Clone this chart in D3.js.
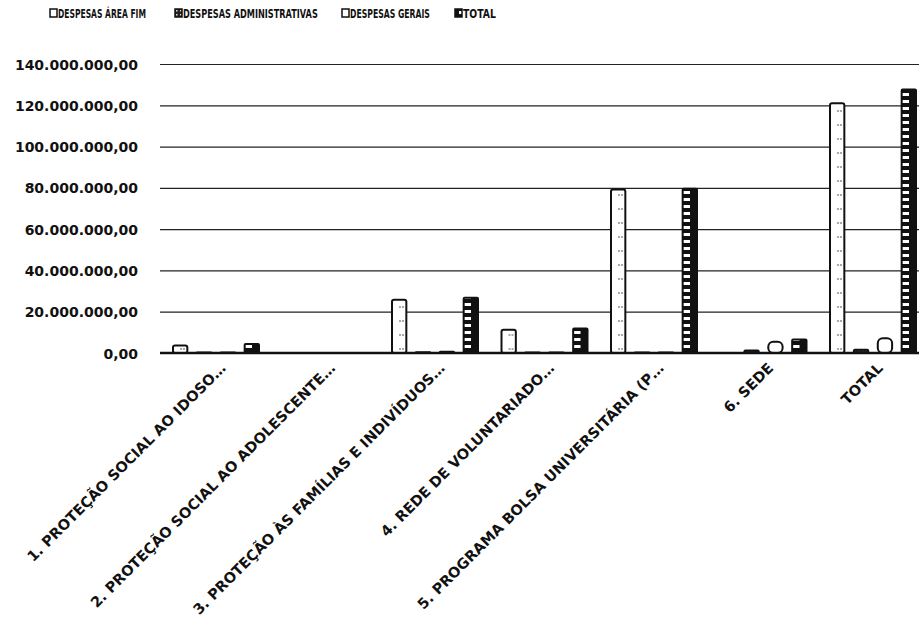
<!DOCTYPE html>
<head>
  <meta charset="utf-8">
  <style>
    body { margin: 0; background: #fff; }
    .ytick text { font-family: 'DejaVu Sans', sans-serif; font-weight: bold; font-size: 14px; fill: #111; }
    .xlab { font-family: 'DejaVu Sans', sans-serif; font-weight: bold; font-size: 14.5px; fill: #111; }
    .legend text { font-family: 'DejaVu Sans', sans-serif; font-weight: bold; font-size: 12.5px; fill: #111; }
  </style>
</head>
<body>
  <script src="https://cdn.jsdelivr.net/npm/d3@7"></script>
  <script>
    // data (values in R$)
    const categories = [
      "1. PROTEÇÃO SOCIAL AO IDOSO…",
      "2. PROTEÇÃO SOCIAL AO ADOLESCENTE…",
      "3. PROTEÇÃO ÀS FAMÍLIAS E INDIVÍDUOS…",
      "4. REDE DE VOLUNTARIADO…",
      "5. PROGRAMA BOLSA UNIVERSITÁRIA (P…",
      "6. SEDE",
      "TOTAL"
    ];
    const seriesNames = ["DESPESAS ÁREA FIM", "DESPESAS ADMINISTRATIVAS", "DESPESAS GERAIS", "TOTAL"];
    const areaFim   = [3.6e6, 0, 25.8e6, 11.3e6, 79.2e6, 0, 121.0e6];
    const adminDesp = [0.2e6, 0, 0.4e6, 0.3e6, 0.2e6, 1.2e6, 1.6e6];
    const geraisDesp = [0.2e6, 0, 0.6e6, 0.3e6, 0.2e6, 5.4e6, 7.2e6];
    const totalDesp = [4.4e6, 0, 26.8e6, 11.9e6, 79.6e6, 6.6e6, 127.6e6];
    const yTicks = [0, 20e6, 40e6, 60e6, 80e6, 100e6, 120e6, 140e6];

    const width = 919, height = 618;
    const margin = {top: 64, right: 0, bottom: 265, left: 160};
    const innerH = height - margin.top - margin.bottom;

    const svg = d3.select("body").append("svg")
      .attr("width", width).attr("height", height);

    // patterns to imitate the scanned bar fills
    const defs = svg.append("defs");
    const pTot = defs.append("pattern").attr("id", "pat-total")
      .attr("patternUnits", "userSpaceOnUse").attr("width", 16).attr("height", 7);
    pTot.append("rect").attr("width", 16).attr("height", 7).attr("fill", "#111");
    pTot.append("rect").attr("x", 4).attr("y", 2).attr("width", 8).attr("height", 3).attr("fill", "#fff");
    const pAdm = defs.append("pattern").attr("id", "pat-admin")
      .attr("patternUnits", "userSpaceOnUse").attr("width", 4).attr("height", 4);
    pAdm.append("rect").attr("width", 4).attr("height", 4).attr("fill", "#222");
    pAdm.append("rect").attr("x", 1).attr("y", 1).attr("width", 1.5).attr("height", 1.5).attr("fill", "#ddd");
    const pFim = defs.append("pattern").attr("id", "pat-fim")
      .attr("patternUnits", "userSpaceOnUse").attr("width", 16).attr("height", 14);
    pFim.append("rect").attr("width", 16).attr("height", 14).attr("fill", "#fff");
    pFim.append("line").attr("x1", 4).attr("x2", 9).attr("y1", 13).attr("y2", 13)
      .attr("stroke", "#555").attr("stroke-width", 1).attr("stroke-dasharray", "2,1");

    const fills = ["url(#pat-fim)", "url(#pat-admin)", "#fff", "url(#pat-total)"];
    const radius = [2, 1, 5, 1];

    const x0 = d3.scaleBand().domain(categories).range([margin.left, margin.left + 7 * 109.5]);
    const x1 = d3.scaleBand().domain(seriesNames).range([13, 99]).paddingInner(0.4);
    const y = d3.scaleLinear().domain([0, 140e6]).range([margin.top + innerH, margin.top]);

    const fmt = v => d3.format(",.2f")(v).replace(/,/g, "#").replace(".", ",").replace(/#/g, ".");

    // y axis labels and gridlines
    const yAxis = svg.append("g").attr("class", "ytick")
      .attr("transform", `translate(${margin.left},0)`)
      .call(d3.axisLeft(y).tickValues(yTicks).tickFormat(fmt).tickSize(-(width - margin.left)).tickPadding(22));
    yAxis.select(".domain").remove();
    yAxis.selectAll(".tick line").attr("stroke", "#222").attr("stroke-width", 1.2);
    yAxis.selectAll(".tick text").attr("dy", "0.36em");

    // bars
    const rows = categories.map((c, i) => ({
      cat: c,
      vals: [areaFim[i], adminDesp[i], geraisDesp[i], totalDesp[i]]
    }));
    const groups = svg.append("g").selectAll("g").data(rows).enter().append("g")
      .attr("transform", d => `translate(${x0(d.cat)},0)`);
    groups.selectAll("rect")
      .data(d => d.vals.map((v, k) => ({k: k, v: v})).filter(e => e.v > 0))
      .enter().append("rect")
      .attr("x", e => x1(seriesNames[e.k]))
      .attr("y", e => y(e.v))
      .attr("width", x1.bandwidth())
      .attr("height", e => y(0) - y(e.v))
      .attr("rx", e => Math.min(radius[e.k], (y(0) - y(e.v)) / 2))
      .attr("fill", e => fills[e.k])
      .attr("stroke", "#111")
      .attr("stroke-width", 2);

    // baseline
    svg.append("line")
      .attr("x1", margin.left).attr("x2", width)
      .attr("y1", y(0)).attr("y2", y(0))
      .attr("stroke", "#111").attr("stroke-width", 2.5);

    // rotated category labels
    svg.append("g").selectAll("text").data(categories).enter().append("text")
      .attr("class", "xlab")
      .attr("text-anchor", "end")
      .attr("transform", d => `translate(${x0(d) + x0.bandwidth() / 2 + 12},${y(0) + 16}) rotate(-45)`)
      .text(d => d);

    // legend: condensed look, each text squeezed horizontally to the scan's width
    const legendX = [50, 175, 342, 455];
    const legendW = [88, 135, 80, 33];
    const legend = svg.append("g").attr("class", "legend");
    const li = legend.selectAll("g").data(seriesNames).enter().append("g")
      .attr("transform", (d, i) => `translate(${legendX[i]},9)`);
    li.append("rect").attr("width", 7).attr("height", 8)
      .attr("fill", (d, i) => i === 2 ? "#fff" : fills[i])
      .attr("stroke", "#111").attr("stroke-width", 1.5);
    li.append("text")
      .text(d => d)
      .each(function(d, i) {
        const len = this.getComputedTextLength();
        d3.select(this).attr("transform", `translate(8,9) scale(${legendW[i] / len},1)`);
      });
  </script>
</body>
